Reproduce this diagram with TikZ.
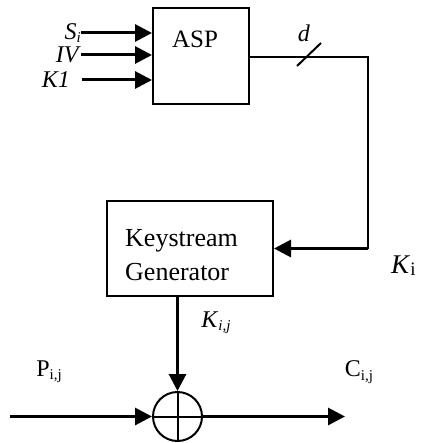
\documentclass[tikz,border=0pt]{standalone}
\usepackage{fontspec}
\setmainfont{Liberation Serif}
\usetikzlibrary{arrows.meta}
\newcommand{\lsub}[1]{\raisebox{-0.3ex}{\fontsize{15}{15}\selectfont #1}}
\tikzset{
  box/.style={draw, line width=2pt, inner sep=0pt},
  arr/.style={line width=3pt, -{Triangle[length=17pt,width=17pt]}},
  thin/.style={line width=2pt},
  lbl/.style={inner sep=0pt, font=\fontsize{24}{28}\selectfont},
}
\begin{document}
\begin{tikzpicture}[x=1pt,y=-1pt]
\useasboundingbox (0,0) rectangle (421,443);
% ASP block
\node[box, minimum width=96pt, minimum height=96pt] (asp) at (201,56) {};
\node[lbl, font=\fontsize{25}{28}\selectfont] (asptxt) at (195,39) {ASP};
% inputs
\node[lbl, anchor=east] (si) at (81,33) {\textit{S}\lsub{\textit{i}}};
\node[lbl, anchor=east] (iv) at (81,55) {\textit{IV}};
\node[lbl, anchor=east] (k1) at (70,80) {\textit{K1}};
\coordinate (k1start) at (82,80);
\draw[arr] (si.east) -- (si.east -| asp.west);
\draw[arr] (iv.east) -- (iv.east -| asp.west);
\draw[arr] (k1start) -- (k1start -| asp.west);
% keystream generator
\node[box, minimum width=166pt, minimum height=95pt] (kg) at (190,248.5) {};
\node[lbl, anchor=west, align=left, font=\fontsize{26}{34}\selectfont] (kgtxt) at (125,255) {Keystream\\Generator};
% d line
\coordinate (dstart) at (asp.east |- 0,57);
\coordinate (corner) at (368,57);
\draw[thin] (dstart) -- (corner) -- (corner |- kg.east);
\draw[arr] (corner |- kg.east) -- (kg.east);
\coordinate (s1) at (297,66);
\coordinate (s2) at (321,43);
\draw[thin] (s1) -- (s2);
\node[lbl] (dlbl) at (304,33) {\textit{d}};
\node[inner sep=0pt, anchor=base west, font=\fontsize{27}{28}\selectfont] (kilbl) at (391,273) {\textit{K}\raisebox{-0.2ex}{\fontsize{19}{19}\selectfont i}};
% xor
\node[draw, circle, line width=2pt, minimum size=49pt, inner sep=0pt] (xor) at (177.5,416.5) {};
\draw[thin] (xor.north) -- (xor.south);
\draw[thin] (xor.west) -- (xor.east);
\draw[arr] (xor |- kg.south) -- (xor.north);
\coordinate (pin) at (10,416.5);
\coordinate (cout) at (345,416.5);
\draw[arr] (pin) -- (xor.west);
\draw[arr] (xor.east) -- (cout);
\node[lbl] (kij) at (216,323) {\textit{K}\lsub{\textit{i,j}}};
\node[lbl] (pij) at (49,372) {P\lsub{i,j}};
\node[lbl] (cij) at (359,372) {C\lsub{i,j}};
\end{tikzpicture}
\end{document}
